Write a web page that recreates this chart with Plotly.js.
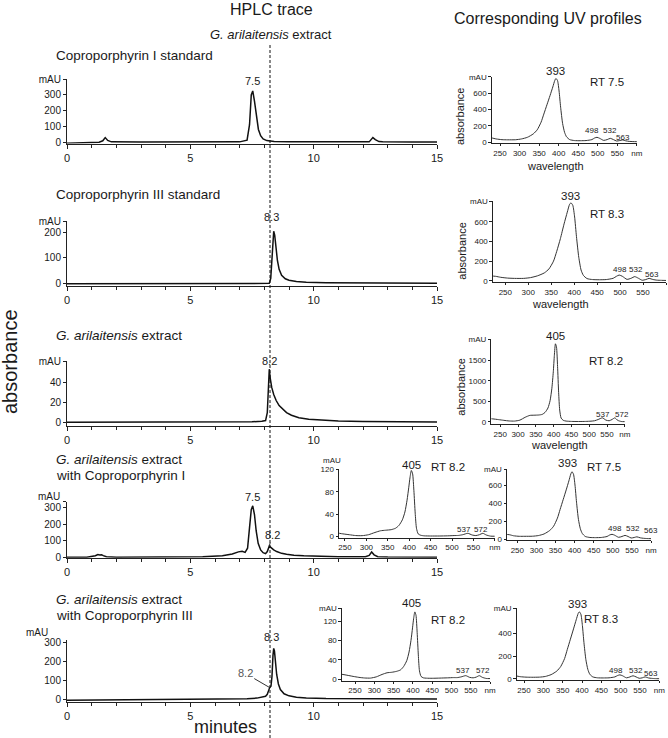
<!DOCTYPE html>
<html><head><meta charset="utf-8">
<script src="https://cdn.plot.ly/plotly-3.0.1.min.js"></script>
<style>html,body{margin:0;padding:0;background:#fff}#chart{width:668px;height:738px}</style>
</head><body><div id="chart"></div>
<script>
// ---------- HPLC traces (minutes vs mAU) ----------
const timeCoproI = [0, 0.3, 0.8, 1.3, 1.45, 1.55, 1.65, 1.8, 3, 5, 7.0, 7.3, 7.4, 7.47, 7.53, 7.6, 7.68, 7.76, 7.85, 7.95, 8.1, 8.4, 9, 11, 12.25, 12.4, 12.5, 12.65, 12.8, 14, 15];
const absCoproI  = [-8, -7, -4, -1, 8, 28, 10, 1, 0, 0, 1, 12, 110, 300, 325, 260, 150, 80, 40, 20, 9, 4, 2, 1, 1, 28, 15, 3, 1, 0, 0];

const timeCoproIII = [0, 3, 6, 8.0, 8.2, 8.26, 8.3, 8.34, 8.38, 8.42, 8.47, 8.53, 8.6, 8.7, 8.85, 9.0, 9.3, 9.7, 10.5, 12, 15];
const absCoproIII  = [-2, -2, -1.5, -1, 0, 20, 100, 180, 205, 190, 140, 90, 55, 32, 18, 12, 7, 4, 2, 1, 0];

const timeExtract = [0, 3, 6, 7.5, 7.9, 8.05, 8.12, 8.17, 8.2, 8.24, 8.3, 8.38, 8.48, 8.6, 8.75, 8.9, 9.1, 9.4, 9.8, 10.3, 11, 12, 13.5, 15];
const absExtract  = [0.5, 0.5, 0.7, 1, 1.5, 2.2, 10, 40, 53, 44, 35, 28, 22, 17, 13, 10, 7.5, 5, 3.5, 2.5, 1.8, 1.3, 1, 0.8];

const timeExtractI = [0, 0.8, 1.15, 1.25, 1.33, 1.4, 1.47, 1.6, 2, 4, 5.5, 6.3, 6.7, 6.95, 7.1, 7.22, 7.32, 7.4, 7.47, 7.53, 7.6, 7.67, 7.75, 7.85, 7.95, 8.05, 8.12, 8.2, 8.27, 8.38, 8.5, 8.7, 8.9, 9.2, 9.6, 10.2, 11, 12.1, 12.25, 12.35, 12.45, 12.6, 13, 15];
const absExtractI  = [1, 1, 10, 17, 14, 16, 10, 3, 1, 1, 3, 10, 20, 33, 36, 30, 55, 180, 290, 313, 260, 160, 85, 45, 28, 22, 35, 68, 58, 45, 35, 24, 18, 12, 9, 6, 4, 3, 12, 32, 15, 4, 2, 1];

const timeExtractIII = [0, 1, 3, 5, 6.5, 7.3, 7.7, 7.95, 8.05, 8.12, 8.17, 8.22, 8.27, 8.31, 8.35, 8.38, 8.41, 8.45, 8.5, 8.57, 8.65, 8.8, 9.0, 9.3, 9.7, 10.5, 12, 15];
const absExtractIII  = [-6, -5, -3.5, -2.5, -1, 2, 5, 10, 15, 25, 45, 62, 68, 120, 230, 268, 255, 200, 130, 80, 50, 28, 17, 10, 6, 3, 1, 0];

// ---------- UV spectra (nm vs mAU) ----------
const wlCopro = [215, 229, 240, 255, 270, 290, 305, 320, 335, 345, 355, 362, 370, 378, 385, 390, 393, 397, 401, 405, 410, 415, 420, 428, 440, 455, 470, 485, 492, 498, 505, 515, 524, 532, 540, 548, 556, 563, 572, 580, 590, 600];
const uvRT75    = [55, 50, 38, 29, 27, 28, 38, 58, 100, 150, 245, 345, 460, 575, 680, 760, 785, 760, 630, 430, 230, 120, 65, 30, 18, 16, 18, 30, 50, 58, 45, 20, 30, 45, 30, 12, 18, 25, 14, 8, 5, 4];
const uvRT83    = [50, 45, 35, 27, 24, 24, 32, 50, 80, 120, 200, 300, 430, 580, 700, 780, 795, 770, 650, 450, 240, 110, 55, 22, 12, 10, 12, 25, 45, 58, 45, 14, 25, 42, 25, 5, 12, 24, 12, 6, 4, 3];
const uvMixRT75 = [52, 48, 36, 30, 30, 31, 38, 56, 95, 142, 232, 328, 437, 546, 646, 722, 748, 722, 600, 410, 218, 114, 62, 28, 17, 15, 17, 28, 45, 52, 42, 19, 28, 40, 28, 11, 17, 24, 13, 8, 5, 4];
const uvMixRT83 = [30, 27, 20, 16, 15, 16, 22, 38, 70, 110, 180, 260, 350, 440, 520, 575, 590, 570, 470, 320, 170, 85, 42, 18, 10, 9, 10, 18, 30, 36, 28, 10, 18, 28, 18, 6, 10, 18, 9, 5, 3, 2];

const wlExtract = [215, 229, 245, 260, 275, 290, 305, 320, 333, 345, 358, 368, 376, 384, 390, 395, 399, 402, 405, 408, 411, 414, 417, 421, 427, 435, 450, 470, 490, 505, 515, 525, 537, 547, 556, 564, 572, 580, 590, 600];
const uvRT82      = [85, 75, 58, 40, 25, 22, 45, 115, 160, 165, 170, 185, 235, 340, 520, 820, 1220, 1620, 1900, 1820, 1350, 720, 290, 95, 40, 22, 14, 12, 14, 20, 30, 60, 100, 45, 30, 60, 100, 40, 12, 8];
const uvMixExtI   = [9, 7, 5, 3.5, 2, 1.8, 3.5, 7.5, 10.5, 11.5, 12.5, 15, 20, 30, 44, 65, 88, 106, 118, 112, 82, 42, 15, 5, 2.5, 1.5, 1.2, 1.2, 1.5, 2, 2.2, 3.5, 6, 3, 2, 3.5, 6, 3, 1, 0.8];
const uvMixExtIII = [10, 8, 5.5, 3.5, 2.2, 2, 4.5, 9.5, 13, 14, 16, 19, 26, 38, 56, 80, 106, 126, 139, 132, 96, 50, 17, 5.5, 2.5, 1.8, 1.6, 2, 2.5, 3, 3, 4.5, 7, 3.5, 2.5, 4, 7, 3.5, 1.2, 1];

// ---------- tick labels ----------
const hplcXTicks = [0, 5, 10, 15];
const uvXTicks = [250, 300, 350, 400, 450, 500, 550, 600];
const uvXText = ['250', '300', '350', '400', '450', '500', '550', 'nm'];

// ---------- layout helpers ----------
const W = 668, H = 738;
const fx = p => p / W, fy = p => 1 - p / H;
const FONT = '"Liberation Sans", Arial, Helvetica, sans-serif';
const INK = '#1a1a1a';

const layout = {
  width: W, height: H, margin: {l: 0, r: 0, t: 0, b: 0},
  paper_bgcolor: '#fff', plot_bgcolor: 'rgba(0,0,0,0)', showlegend: false,
  font: {family: FONT, color: INK}, annotations: [], shapes: []
};

function axes(n, xd, xr, yd, yr, xopt, yopt) {
  const s = n === 1 ? '' : String(n);
  const base = {showline: true, linecolor: '#222', linewidth: 1, ticks: 'outside', tickcolor: '#222',
    tickwidth: 1, showgrid: false, zeroline: false, fixedrange: true};
  layout['xaxis' + s] = Object.assign({}, base, {domain: [fx(xd[0]), fx(xd[1])], range: xr, anchor: 'y' + s}, xopt);
  layout['yaxis' + s] = Object.assign({}, base, {domain: [fy(yd[0]), fy(yd[1])], range: yr, anchor: 'x' + s}, yopt);
}
const hX = {tickmode: 'array', tickvals: hplcXTicks, ticklen: 4, tickfont: {size: 11, color: INK, family: FONT},
  minor: {dtick: 1, tick0: 0, ticklen: 3, ticks: 'outside', tickcolor: '#222', showgrid: false}};
function hY(vals, txt) { return {tickmode: 'array', tickvals: vals, ticktext: txt, ticklen: 3, tickfont: {size: 10, color: INK, family: FONT}}; }
const uX = {tickmode: 'array', tickvals: uvXTicks, ticktext: uvXText, ticklen: 2, tickfont: {size: 8, color: INK, family: FONT}};
function uY(vals, txt) { return {tickmode: 'array', tickvals: vals, ticktext: txt, ticklen: 2.5, tickfont: {size: 8, color: INK, family: FONT}}; }

// HPLC panels (1-5)
axes(1, [67, 437], [0, 15], [143.6, 79], [-10, 401], hX, hY([0, 100, 200, 300, 400], ['0', '100', '200', '300', 'mAU']));
axes(2, [67, 437], [0, 15], [285.9, 220.8], [-10, 246], hX, hY([0, 100, 200, 245], ['0', '100', '200', 'mAU']));
axes(3, [67, 437], [0, 15], [425.8, 360.8], [-3, 61.3], hX, hY([0, 20, 40, 61], ['0', '20', '40', 'mAU']));
axes(4, [67, 437], [0, 15], [557.8, 501.7], [-3, 338], hX, hY([0, 100, 200, 300, 337], ['0', '100', '200', '300', '']));
axes(5, [67, 437], [0, 15], [701.7, 640.2], [-14, 311.5], hX, hY([0, 100, 200, 300], ['0', '100', '200', '300']));
// UV panels (6-12)
axes(6, [491.8, 636.9], [229, 600], [143.3, 76.7], [-16, 807], uX, uY([0, 200, 400, 600, 806], ['0', '200', '400', '600', 'mAU']));
axes(7, [492.9, 666], [223, 600], [282.3, 201], [-16, 814], uX, uY([0, 200, 400, 600, 813], ['0', '200', '400', '600', 'mAU']));
axes(8, [491.4, 624.8], [225, 600], [424, 339], [-49, 2017], uX, uY([0, 500, 1000, 1500, 2015], ['0', '500', '1000', '1500', 'mAU']));
axes(9, [339, 494.8], [236, 600], [537.8, 468.6], [-2, 121.3], uX, uY([0, 40, 80, 120], ['0', '40', '80', '120']));
axes(10, [507, 651], [223, 600], [539.9, 469.3], [-10, 775], uX, uY([0, 200, 400, 600, 774], ['0', '200', '400', '600', 'mAU']));
axes(11, [341.9, 490.1], [216, 600], [680.5, 608.3], [-3, 146.5], uX, uY([0, 40, 80, 120, 146], ['0', '40', '80', '120', 'mAU']));
axes(12, [516.7, 659.3], [231, 600], [680.1, 608.3], [-10, 621], uX, uY([0, 200, 400, 620], ['0', '200', '400', 'mAU']));

// ---------- traces ----------
const hplc = [[timeCoproI, absCoproI], [timeCoproIII, absCoproIII], [timeExtract, absExtract], [timeExtractI, absExtractI], [timeExtractIII, absExtractIII]];
const uv = [[wlCopro, uvRT75], [wlCopro, uvRT83], [wlExtract, uvRT82], [wlExtract, uvMixExtI], [wlCopro, uvMixRT75], [wlExtract, uvMixExtIII], [wlCopro, uvMixRT83]];
const data = [];
hplc.forEach((d, i) => {
  const s = i === 0 ? '' : String(i + 1);
  data.push({type: 'scatter', mode: 'lines', x: d[0], y: d[1], xaxis: 'x' + s, yaxis: 'y' + s,
    line: {color: '#111', width: 1.5}, hoverinfo: 'skip'});
});
uv.forEach((d, i) => {
  const s = String(i + 6);
  data.push({type: 'scatter', mode: 'lines', x: d[0], y: d[1], xaxis: 'x' + s, yaxis: 'y' + s,
    line: {color: '#333', width: 1, shape: 'spline', smoothing: 0.6}, hoverinfo: 'skip'});
});

// ---------- annotations ----------
function A(text, px, py, size, opt) {
  layout.annotations.push(Object.assign({text: text, x: fx(px), y: fy(py), xref: 'paper', yref: 'paper',
    showarrow: false, xanchor: 'center', yanchor: 'middle', font: {size: size, family: FONT, color: INK}}, opt || {}));
}
function D(text, axis, xv, py, size, opt) {
  layout.annotations.push(Object.assign({text: text, x: xv, y: fy(py), xref: 'x' + axis, yref: 'paper',
    showarrow: false, xanchor: 'center', yanchor: 'middle', font: {size: size, family: FONT, color: INK}}, opt || {}));
}
A('HPLC trace', 271, 9, 16);
A('<i>G. arilaitensis</i> extract', 271, 35, 13);
A('Corresponding UV profiles', 547.5, 18, 16);
A('absorbance', 10, 362, 20, {textangle: -90});
A('minutes', 225, 727, 18);
A('Coproporphyrin I standard', 54, 55, 13.5, {xanchor: 'left'});
A('Coproporphyrin III standard', 54, 195, 13.5, {xanchor: 'left'});
A('<i>G. arilaitensis</i> extract', 54, 335, 13.5, {xanchor: 'left'});
A('<i>G. arilaitensis</i> extract', 54, 460, 13.5, {xanchor: 'left'});
A('with Coproporphyrin I', 54, 476, 13.5, {xanchor: 'left'});
A('<i>G. arilaitensis</i> extract', 54, 599, 13.5, {xanchor: 'left'});
A('with Coproporphyrin III', 54, 615, 13.5, {xanchor: 'left'});
A('mAU', 62, 496, 10, {xanchor: 'right'});
A('mAU', 50, 632.5, 10, {xanchor: 'right'});
A('mAU', 331.7, 460.5, 8);
// UV axis titles
A('absorbance', 460, 116, 11, {textangle: -90});
A('wavelength', 555.5, 166, 11);
A('absorbance', 461.7, 251, 11, {textangle: -90});
A('wavelength', 560, 304, 11);
A('absorbance', 460.7, 387, 11, {textangle: -90});
A('wavelength', 559, 444.5, 11);
// HPLC peak labels
D('7.5', '', 7.5, 81, 11);
D('8.3', '2', 8.3, 217.3, 11);
D('8.2', '3', 8.2, 360.7, 11);
D('7.5', '4', 7.5, 497.3, 11);
D('8.3', '5', 8.3, 636.7, 11);
layout.annotations.push({text: '8.2', x: 8.2, y: 68, xref: 'x4', yref: 'y4', showarrow: true, arrowhead: 0,
  arrowwidth: 1, arrowcolor: '#222', ax: 3, ay: -11, font: {size: 11, family: FONT, color: INK}});
layout.annotations.push({text: '8.2', x: 8.2, y: 62, xref: 'x5', yref: 'y5', showarrow: true, arrowhead: 0,
  arrowwidth: 1, arrowcolor: '#333', ax: -24, ay: -14, font: {size: 11, family: FONT, color: '#555'}});
// UV peak labels
const S = 8;
D('393', '6', 393, 71, 11.5);
A('498', 592.3, 130.7, S); A('532', 610, 130.7, S); A('563', 623, 137.7, S);
A('RT 7.5', 606.7, 81.7, 11.5);
D('393', '7', 393, 196, 11.5);
A('498', 619.7, 269.3, S); A('532', 635.7, 269.3, S); A('563', 652, 274.5, S);
A('RT 8.3', 606.7, 214, 11.5);
D('405', '8', 405, 335.7, 11.5);
A('537', 603, 414, S); A('572', 621.5, 414, S);
A('RT 8.2', 605.7, 360.7, 11.5);
D('405', '9', 405, 465, 11.5);
A('537', 464, 529, S); A('572', 481, 529, S);
A('RT 8.2', 448.3, 466.7, 11.5);
A('393', 567, 463.3, 11.5);
A('498', 615, 528.3, S); A('532', 633.3, 528.3, S); A('563', 651, 530.7, S);
A('RT 7.5', 604, 466.7, 11.5);
A('405', 411, 602.7, 11.5);
A('537', 463.3, 670.7, S); A('572', 483.3, 670.7, S);
A('RT 8.2', 448.3, 620, 11.5);
A('393', 577, 604, 11.5);
A('498', 616, 670, S); A('532', 636, 670, S); A('563', 651, 673.3, S);
A('RT 8.3', 601, 619.3, 11.5);

// dashed reference line at 8.2 min
layout.shapes.push({type: 'line', xref: 'paper', yref: 'paper', x0: fx(270), x1: fx(270), y0: 0, y1: fy(43),
  line: {color: '#111', width: 1, dash: '3px,2px'}});

Plotly.newPlot('chart', data, layout, {staticPlot: true, displayModeBar: false});
</script>
</body></html>
